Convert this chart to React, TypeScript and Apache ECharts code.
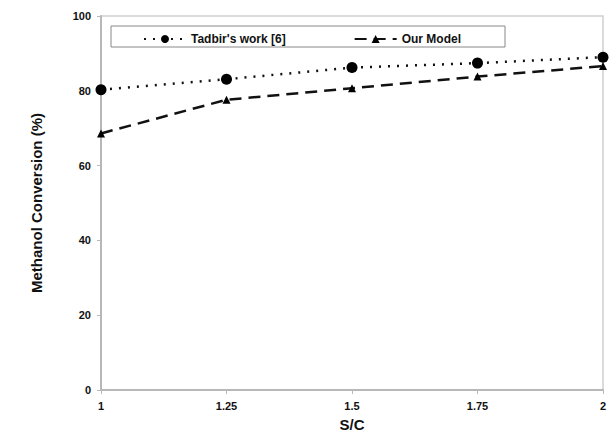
import React, { useEffect, useRef } from "react";
import * as echarts from "echarts";

const scValues = [1, 1.25, 1.5, 1.75, 2];
const tadbirValues = [80.3, 83.1, 86.2, 87.4, 89.0];
const modelValues = [68.6, 77.6, 80.7, 83.8, 86.6];
const seriesNames = ["Tadbir's work [6]", "Our Model"];

export default function App() {
  const ref = useRef<HTMLDivElement>(null);
  useEffect(() => {
    if (!ref.current) return;
    const chart = echarts.init(ref.current, null, { renderer: "svg" });
    const axisGrey = "#b8b8b8";
    const font = "Liberation Sans, Arial, sans-serif";
    chart.setOption({
      animation: false,
      backgroundColor: "#fff",
      grid: {
        left: 101,
        right: 11,
        top: 16,
        bottom: 46,
        show: true,
        borderColor: "#d0d0d0",
        borderWidth: 1.5,
        backgroundColor: "transparent",
      },
      graphic: [
        {
          type: "rect",
          shape: { x: 111, y: 26, width: 394, height: 21 },
          style: { fill: "#fff", stroke: "#888", lineWidth: 1 },
          z: 5,
        },
      ],
      legend: {
        left: 138,
        top: 28,
        z: 10,
        itemWidth: 42,
        itemHeight: 10,
        itemGap: 68,
        data: seriesNames,
        textStyle: {
          fontFamily: font,
          fontWeight: "bold",
          fontSize: 12,
          color: "#111",
        },
      },
      xAxis: {
        type: "value",
        min: 1,
        max: 2,
        interval: 0.25,
        name: "S/C",
        nameLocation: "middle",
        nameGap: 27,
        nameTextStyle: {
          fontFamily: font,
          fontWeight: "bold",
          fontSize: 15,
          color: "#111",
        },
        axisLine: { lineStyle: { color: axisGrey, width: 2 } },
        axisTick: { show: true, length: 4, lineStyle: { color: axisGrey } },
        splitLine: { show: false },
        axisLabel: {
          margin: 10,
          fontFamily: font,
          fontWeight: "bold",
          fontSize: 11,
          color: "#111",
        },
      },
      yAxis: {
        type: "value",
        min: 0,
        max: 100,
        interval: 20,
        name: "Methanol Conversion (%)",
        nameLocation: "middle",
        nameGap: 57,
        nameTextStyle: {
          fontFamily: font,
          fontWeight: "bold",
          fontSize: 15,
          color: "#111",
        },
        axisLine: { show: true, lineStyle: { color: axisGrey, width: 2 } },
        axisTick: { show: true, length: 4, lineStyle: { color: axisGrey } },
        splitLine: { show: false },
        axisLabel: {
          margin: 10,
          fontFamily: font,
          fontWeight: "bold",
          fontSize: 11,
          color: "#111",
        },
      },
      series: [
        {
          name: seriesNames[0],
          type: "line",
          data: scValues.map((x, i) => [x, tadbirValues[i]]),
          symbol: "circle",
          symbolSize: 11,
          itemStyle: { color: "#000" },
          lineStyle: { color: "#111", width: 2.5, type: [2, 7] },
          z: 3,
        },
        {
          name: seriesNames[1],
          type: "line",
          data: scValues.map((x, i) => [x, modelValues[i]]),
          symbol: "triangle",
          symbolSize: 8,
          itemStyle: { color: "#000" },
          lineStyle: { color: "#111", width: 2.5, type: [12, 7] },
          z: 3,
        },
      ],
    });
    return () => chart.dispose();
  }, []);
  return (
    <div
      ref={ref}
      style={{ position: "fixed", left: 0, top: 0, width: 614, height: 437 }}
    />
  );
}
